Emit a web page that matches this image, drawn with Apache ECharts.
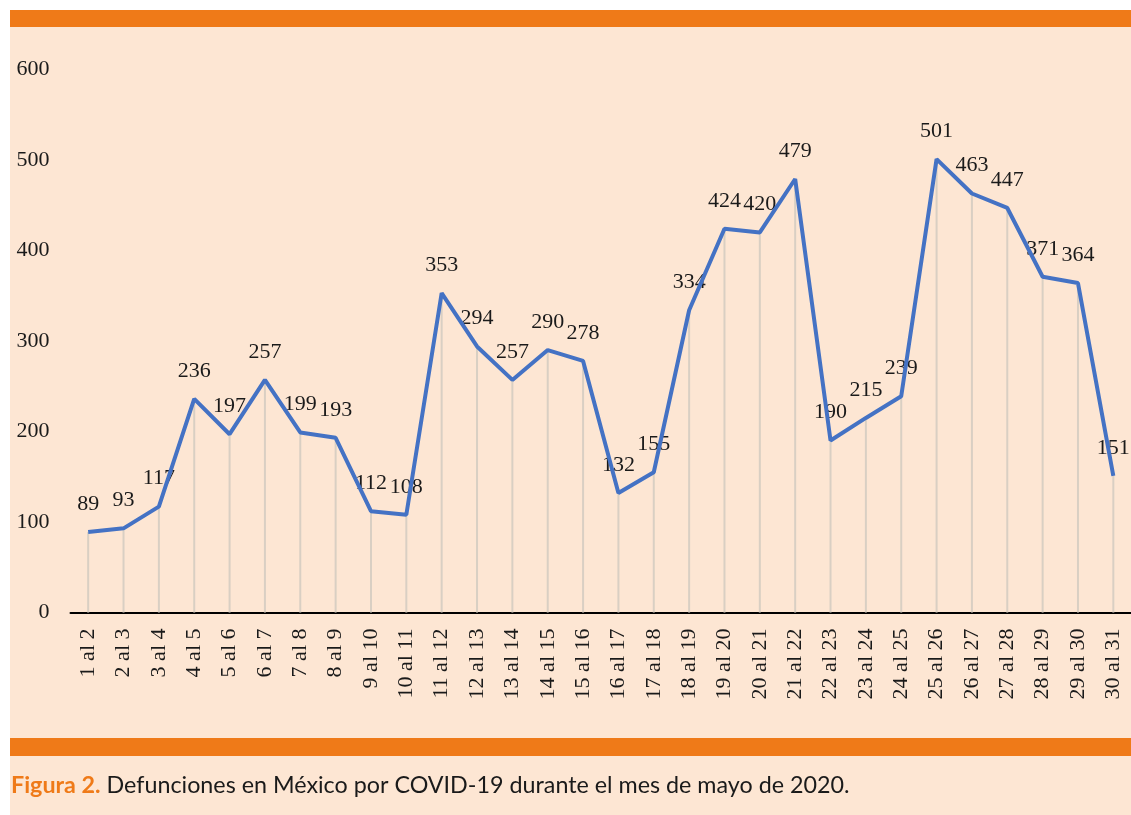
<!DOCTYPE html>
<html><head><meta charset="utf-8">
<script src="https://cdn.jsdelivr.net/npm/echarts@6/dist/echarts.min.js"></script>
<style>html,body{margin:0;padding:0;background:#fff;}#c{width:1131px;height:815px;}</style>
</head><body><div id="c"></div>
<script>
const categories = ["1 al 2","2 al 3","3 al 4","4 al 5","5 al 6","6 al 7","7 al 8","8 al 9","9 al 10","10 al 11","11 al 12","12 al 13","13 al 14","14 al 15","15 al 16","16 al 17","17 al 18","18 al 19","19 al 20","20 al 21","21 al 22","22 al 23","23 al 24","24 al 25","25 al 26","26 al 27","27 al 28","28 al 29","29 al 30","30 al 31"];
const deaths = [89,93,117,236,197,257,199,193,112,108,353,294,257,290,278,132,155,334,424,420,479,190,215,239,501,463,447,371,364,151];
const yTicks = [0,100,200,300,400,500,600];
const captionLead = "Figura 2.";
const captionText = " Defunciones en México por COVID-19 durante el mes de mayo de 2020.";

const PEACH = '#fde6d3', ORANGE = '#ef7a18';
const chart = echarts.init(document.getElementById('c'), null, {renderer:'canvas'});
chart.setOption({
  backgroundColor: '#ffffff',
  animation: false,
  graphic: [
    {type:'rect', z:-10, shape:{x:10,y:10,width:1121,height:805}, style:{fill:PEACH}},
    {type:'rect', z:-9, shape:{x:10,y:10,width:1121,height:17}, style:{fill:ORANGE}},
    {type:'rect', z:-9, shape:{x:10,y:738,width:1121,height:18}, style:{fill:ORANGE}},
    {type:'text', left:11, top:774, style:{
      text:'{a|'+captionLead+'}{b|'+captionText+'}',
      rich:{
        a:{fill:ORANGE, fontFamily:'Lato', fontWeight:'bold', fontSize:23.3},
        b:{fill:'#1a1a1a', fontFamily:'Lato', fontSize:23.3}
      }
    }}
  ],
  grid: {left:70.5, width:1067, top:69.5, bottom:202.5, containLabel:false},
  xAxis: {
    type:'category', data:categories, boundaryGap:true,
    axisLine:{show:true, lineStyle:{color:'#000', width:2}},
    axisTick:{show:false},
    axisLabel:{rotate:90, interval:0, margin:16, color:'#1a1a1a', fontFamily:'Liberation Serif', fontSize:22},
    splitLine:{show:false}
  },
  yAxis: {
    type:'value', min:0, max:600, interval:100,
    axisLine:{show:false}, axisTick:{show:false}, splitLine:{show:false},
    axisLabel:{margin:21, color:'#1a1a1a', fontFamily:'Liberation Serif', fontSize:22,
      formatter: v => yTicks.includes(v) ? String(v) : ''}
  },
  series: [
    {type:'bar', data:deaths, barWidth:2, itemStyle:{color:'#d9cfc3'}, z:1,
     label:{show:true, position:'top', distance:17, color:'#1a1a1a', fontFamily:'Liberation Serif', fontSize:22}},
    {type:'line', data:deaths, symbol:'none', z:3,
     lineStyle:{color:'#4472c4', width:4}, itemStyle:{color:'#4472c4'}}
  ]
});
</script></body></html>
